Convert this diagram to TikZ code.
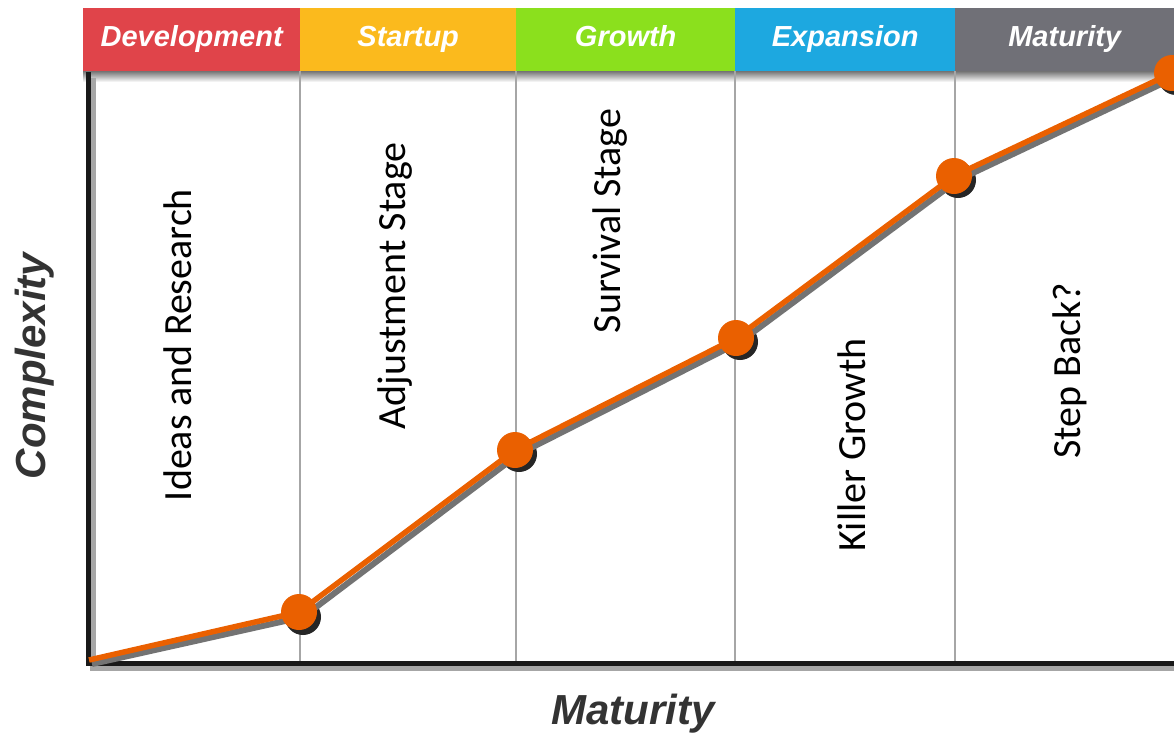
\documentclass[tikz,border=0pt]{standalone}
\usepackage{fontspec}
\setmainfont{Carlito}
\newfontfamily\headfont{Liberation Sans}
\begin{document}
\begin{tikzpicture}[x=1pt,y=-1pt,
  band/.style={draw=none,minimum height=63pt,inner sep=0pt,anchor=north west},
  bandtext/.style={text=white,text height=20pt,text depth=6pt,font=\headfont\bfseries\itshape\fontsize{29}{29}\selectfont},
  divider/.style={draw=black!35,line width=1.4pt},
  axisline/.style={draw=black!90,line width=5pt},
  axisshadow/.style={draw=black!35,line width=6pt},
  curve/.style={draw=orangeline,line width=5.5pt,line join=round},
  curveshadow/.style={draw=black!55,line width=6pt,line join=round},
  dot/.style={circle,fill=orangeline,minimum size=36pt,inner sep=0pt},
  dotshadow/.style={circle,fill=black!85,minimum size=36pt,inner sep=0pt},
  stage/.style={rotate=90,font=\fontsize{40}{40}\selectfont},
  axislabel/.style={text=black!80,font=\headfont\bfseries\itshape\fontsize{42}{42}\selectfont}]
\definecolor{orangeline}{HTML}{EA6000}
\definecolor{cdev}{HTML}{E0444A}
\definecolor{cstart}{HTML}{FBBA1D}
\definecolor{cgrow}{HTML}{8BE01D}
\definecolor{cexp}{HTML}{1DA8E0}
\definecolor{cmat}{HTML}{707077}
\useasboundingbox[fill=white] (0,0) rectangle (1174,739);

% header shadow
\shade[top color=black!55,bottom color=white] (83,71) rectangle (1174,82);

% stage divider lines
\draw[divider] (300,71) -- (300,662);
\draw[divider] (516,71) -- (516,662);
\draw[divider] (735,71) -- (735,662);
\draw[divider] (955,71) -- (955,662);

% colour band
\node[band,fill=cdev,minimum width=217pt] (hdev) at (83,8) {};
\node[band,fill=cstart,minimum width=216pt] (hstart) at (300,8) {};
\node[band,fill=cgrow,minimum width=219pt] (hgrow) at (516,8) {};
\node[band,fill=cexp,minimum width=220pt] (hexp) at (735,8) {};
\node[band,fill=cmat,minimum width=219pt] (hmat) at (955,8) {};
\node[bandtext] at (hdev.center) {Development};
\node[bandtext] at (hstart.center) {Startup};
\node[bandtext] at (hgrow.center) {Growth};
\node[bandtext] at (hexp.center) {Expansion};
\node[bandtext] at (hmat.center) {Maturity};

% axes
\draw[axisshadow] (93,78) -- (93,668) -- (1174,668);
\draw[axisline,line cap=rect] (88,74) -- (88,663) -- (1174,663);

% data points
\coordinate (p0) at (89,660);
\node[dotshadow] (s1) at (303,617) {};
\node[dotshadow] (s2) at (519,454) {};
\node[dotshadow] (s3) at (740,342) {};
\node[dotshadow] (s4) at (958,180) {};
\node[dotshadow] (s5) at (1176,77) {};
\coordinate (q0) at (92,664);
\draw[curveshadow] (q0) -- (s1.center) -- (s2.center) -- (s3.center) -- (s4.center) -- (s5.center);
\node[dot] (p1) at (299,612) {};
\node[dot] (p2) at (515,450) {};
\node[dot] (p3) at (736,338) {};
\node[dot] (p4) at (954,176) {};
\node[dot] (p5) at (1172,73) {};
\draw[curve] (p0) -- (p1.center) -- (p2.center) -- (p3.center) -- (p4.center) -- (p5.center);

% stage descriptions
\node[stage] (t1) at (178,345) {Ideas and Research};
\node[stage] (t2) at (395,286) {Adjustment Stage};
\node[stage] (t3) at (610,221) {Survival Stage};
\node[stage] (t4) at (852,445) {Killer Growth};
\node[stage] (t5) at (1070,371) {Step Back?};

% axis titles
\node[axislabel,rotate=90] (ylab) at (35,366) {Complexity};
\node[axislabel] (xlab) at (633,714) {Maturity};
\end{tikzpicture}
\end{document}
